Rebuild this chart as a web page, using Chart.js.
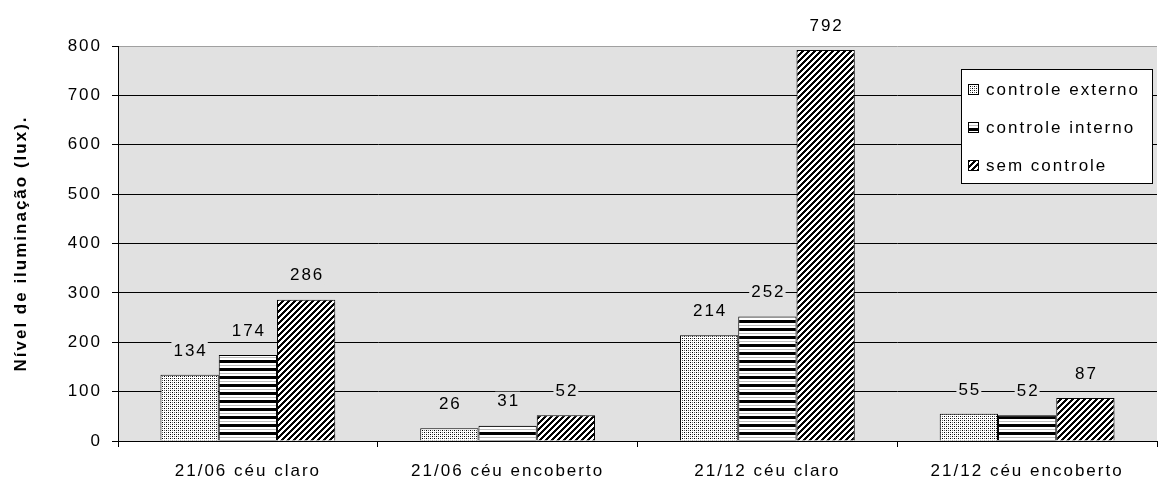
<!DOCTYPE html>
<html>
<head>
<meta charset="utf-8">
<script src="https://cdn.jsdelivr.net/npm/chart.js@4/dist/chart.umd.min.js"></script>
<style>
  body { margin:0; background:#fff; }
  #wrap { width:1158px; height:483px; }
</style>
</head>
<body>
<div id="wrap"><canvas id="grafico" width="1158" height="483"></canvas></div>
<script>
var categorias = ['21/06 céu claro', '21/06 céu encoberto', '21/12 céu claro', '21/12 céu encoberto'];
var controleExterno = [134, 26, 214, 55];
var controleInterno = [174, 31, 252, 52];
var semControle = [286, 52, 792, 87];
var nomesSeries = ['controle externo', 'controle interno', 'sem controle'];
var yTicks = [0, 100, 200, 300, 400, 500, 600, 700, 800];

var fonte = '"Liberation Sans", Arial, sans-serif';
var fundoPlot = '#e1e1e1';
var tam = 17;

// pequenos padroes tipo excel
function padrao(tipo){
    var c = document.createElement('canvas');
    var n = tipo == 'diag' ? 6 : (tipo == 'horiz' ? 8 : 4);
    c.width = n; c.height = n;
    var g = c.getContext('2d');
    g.fillStyle = '#fff';
    g.fillRect(0, 0, n, n);
    if (tipo == 'dots') {
        g.fillStyle = '#000';
        g.fillRect(0, 0, 1, 1);
        g.fillRect(2, 2, 1, 1);
        g.fillStyle = '#707070';
        g.fillRect(2, 0, 1, 1);
        g.fillRect(0, 2, 1, 1);
    } else if (tipo == 'horiz') {
        g.fillStyle = '#000';
        g.fillRect(0, 0, n, 3);
        g.fillStyle = '#bdbdbd';
        g.fillRect(0, 5, n, 1);
    } else {
        g.fillStyle = '#000';
        for (var x = 0; x < n; x++) {
            for (var y = 0; y < n; y++) {
                if ((x + y) % n < 3) g.fillRect(x, y, 1, 1);
            }
        }
    }
    return g.createPattern(c, 'repeat');
}

var padroes = [padrao('dots'), padrao('horiz'), padrao('diag')];

// texto do excel e bem espacado
var espacamento = {
    id: 'espacamento',
    beforeUpdate: function(chart){ chart.ctx.letterSpacing = '2px'; },
    beforeDraw: function(chart){ chart.ctx.letterSpacing = '2px'; }
};

var fundoArea = {
    id: 'fundoArea',
    beforeDraw: function(chart){
        var a = chart.chartArea, ctx = chart.ctx;
        ctx.save();
        ctx.fillStyle = fundoPlot;
        ctx.fillRect(a.left, a.top, a.right - a.left, a.bottom - a.top);
        ctx.restore();
    }
};

var rotulos = {
    id: 'rotulos',
    afterDatasetsDraw: function(chart){
        var ctx = chart.ctx, a = chart.chartArea;
        ctx.save();
        ctx.font = tam + 'px ' + fonte;
        ctx.textAlign = 'center';
        ctx.textBaseline = 'middle';
        chart.data.datasets.forEach(function(ds, i){
            chart.getDatasetMeta(i).data.forEach(function(el, j){
                var txt = String(ds.data[j]);
                var y = el.y - 25;
                var w = ctx.measureText(txt).width + 2;
                ctx.fillStyle = y > a.top ? fundoPlot : '#fff';
                ctx.fillRect(el.x - w / 2, y - 9, w, 19);
                ctx.fillStyle = '#000';
                ctx.fillText(txt, el.x + 1, y + 1);
            });
        });
        ctx.restore();
    }
};

var legenda = {
    id: 'legenda',
    afterDraw: function(chart){
        var ctx = chart.ctx, a = chart.chartArea;
        var x0 = a.right - 196, y0 = a.top + 23, w = 191, h = 114;
        ctx.save();
        ctx.fillStyle = '#fff';
        ctx.fillRect(x0, y0, w, h);
        ctx.strokeStyle = '#000';
        ctx.lineWidth = 1;
        ctx.strokeRect(x0 + 0.5, y0 + 0.5, w, h);
        ctx.font = tam + 'px ' + fonte;
        ctx.textBaseline = 'middle';
        chart.data.datasets.forEach(function(ds, i){
            var cy = y0 + 20 + i * 38;
            ctx.fillStyle = ds.backgroundColor;
            ctx.fillRect(x0 + 7, cy - 5, 11, 11);
            ctx.strokeStyle = '#000';
            ctx.strokeRect(x0 + 7.5, cy - 4.5, 10, 10);
            ctx.fillStyle = '#000';
            ctx.fillText(ds.label, x0 + 25, cy + 1);
        });
        ctx.restore();
    }
};

var dados = {
    labels: categorias,
    datasets: [
        { label: nomesSeries[0], data: controleExterno, backgroundColor: padroes[0] },
        { label: nomesSeries[1], data: controleInterno, backgroundColor: padroes[1] },
        { label: nomesSeries[2], data: semControle, backgroundColor: padroes[2] }
    ]
};
dados.datasets.forEach(function(d){
    d.borderColor = '#000';
    d.borderWidth = 1;
    d.categoryPercentage = 0.673;
    d.barPercentage = 1.0;
});

var opcoes = {
    responsive: false,
    animation: false,
    layout: { padding: { top: 46, right: 1, left: 0, bottom: 0 } },
    plugins: {
        legend: { display: false },
        tooltip: { enabled: false }
    },
    scales: {
        x: {
            offset: true,
            grid: { drawOnChartArea: false, drawTicks: true, tickLength: 6, color: '#000', offset: true },
            border: { color: '#000', width: 1 },
            ticks: { color: '#000', font: { family: fonte, size: tam }, padding: 14, maxRotation: 0 },
            afterFit: function(s){ s.height = 42; }
        },
        y: {
            min: 0, max: 800,
            afterBuildTicks: function(s){ s.ticks = yTicks.map(function(v){ return { value: v }; }); },
            grid: {
                color: function(c){ return c.tick && c.tick.value == 800 ? '#a0a0a0' : '#000'; },
                tickColor: '#000', tickLength: 6, lineWidth: 1
            },
            border: { color: '#000', width: 1 },
            ticks: { color: '#000', font: { family: fonte, size: tam }, padding: 10 },
            title: {
                display: true,
                text: 'Nível de iluminação (lux).',
                color: '#000',
                font: { family: fonte, size: tam, weight: 'bold' },
                padding: { top: 11, bottom: 0 }
            },
            afterFit: function(s){ s.width = 118; }
        }
    }
};

var chart = new Chart(document.getElementById('grafico'), {
    type: 'bar',
    data: dados,
    options: opcoes,
    plugins: [espacamento, fundoArea, rotulos, legenda]
});
</script>
</body>
</html>
